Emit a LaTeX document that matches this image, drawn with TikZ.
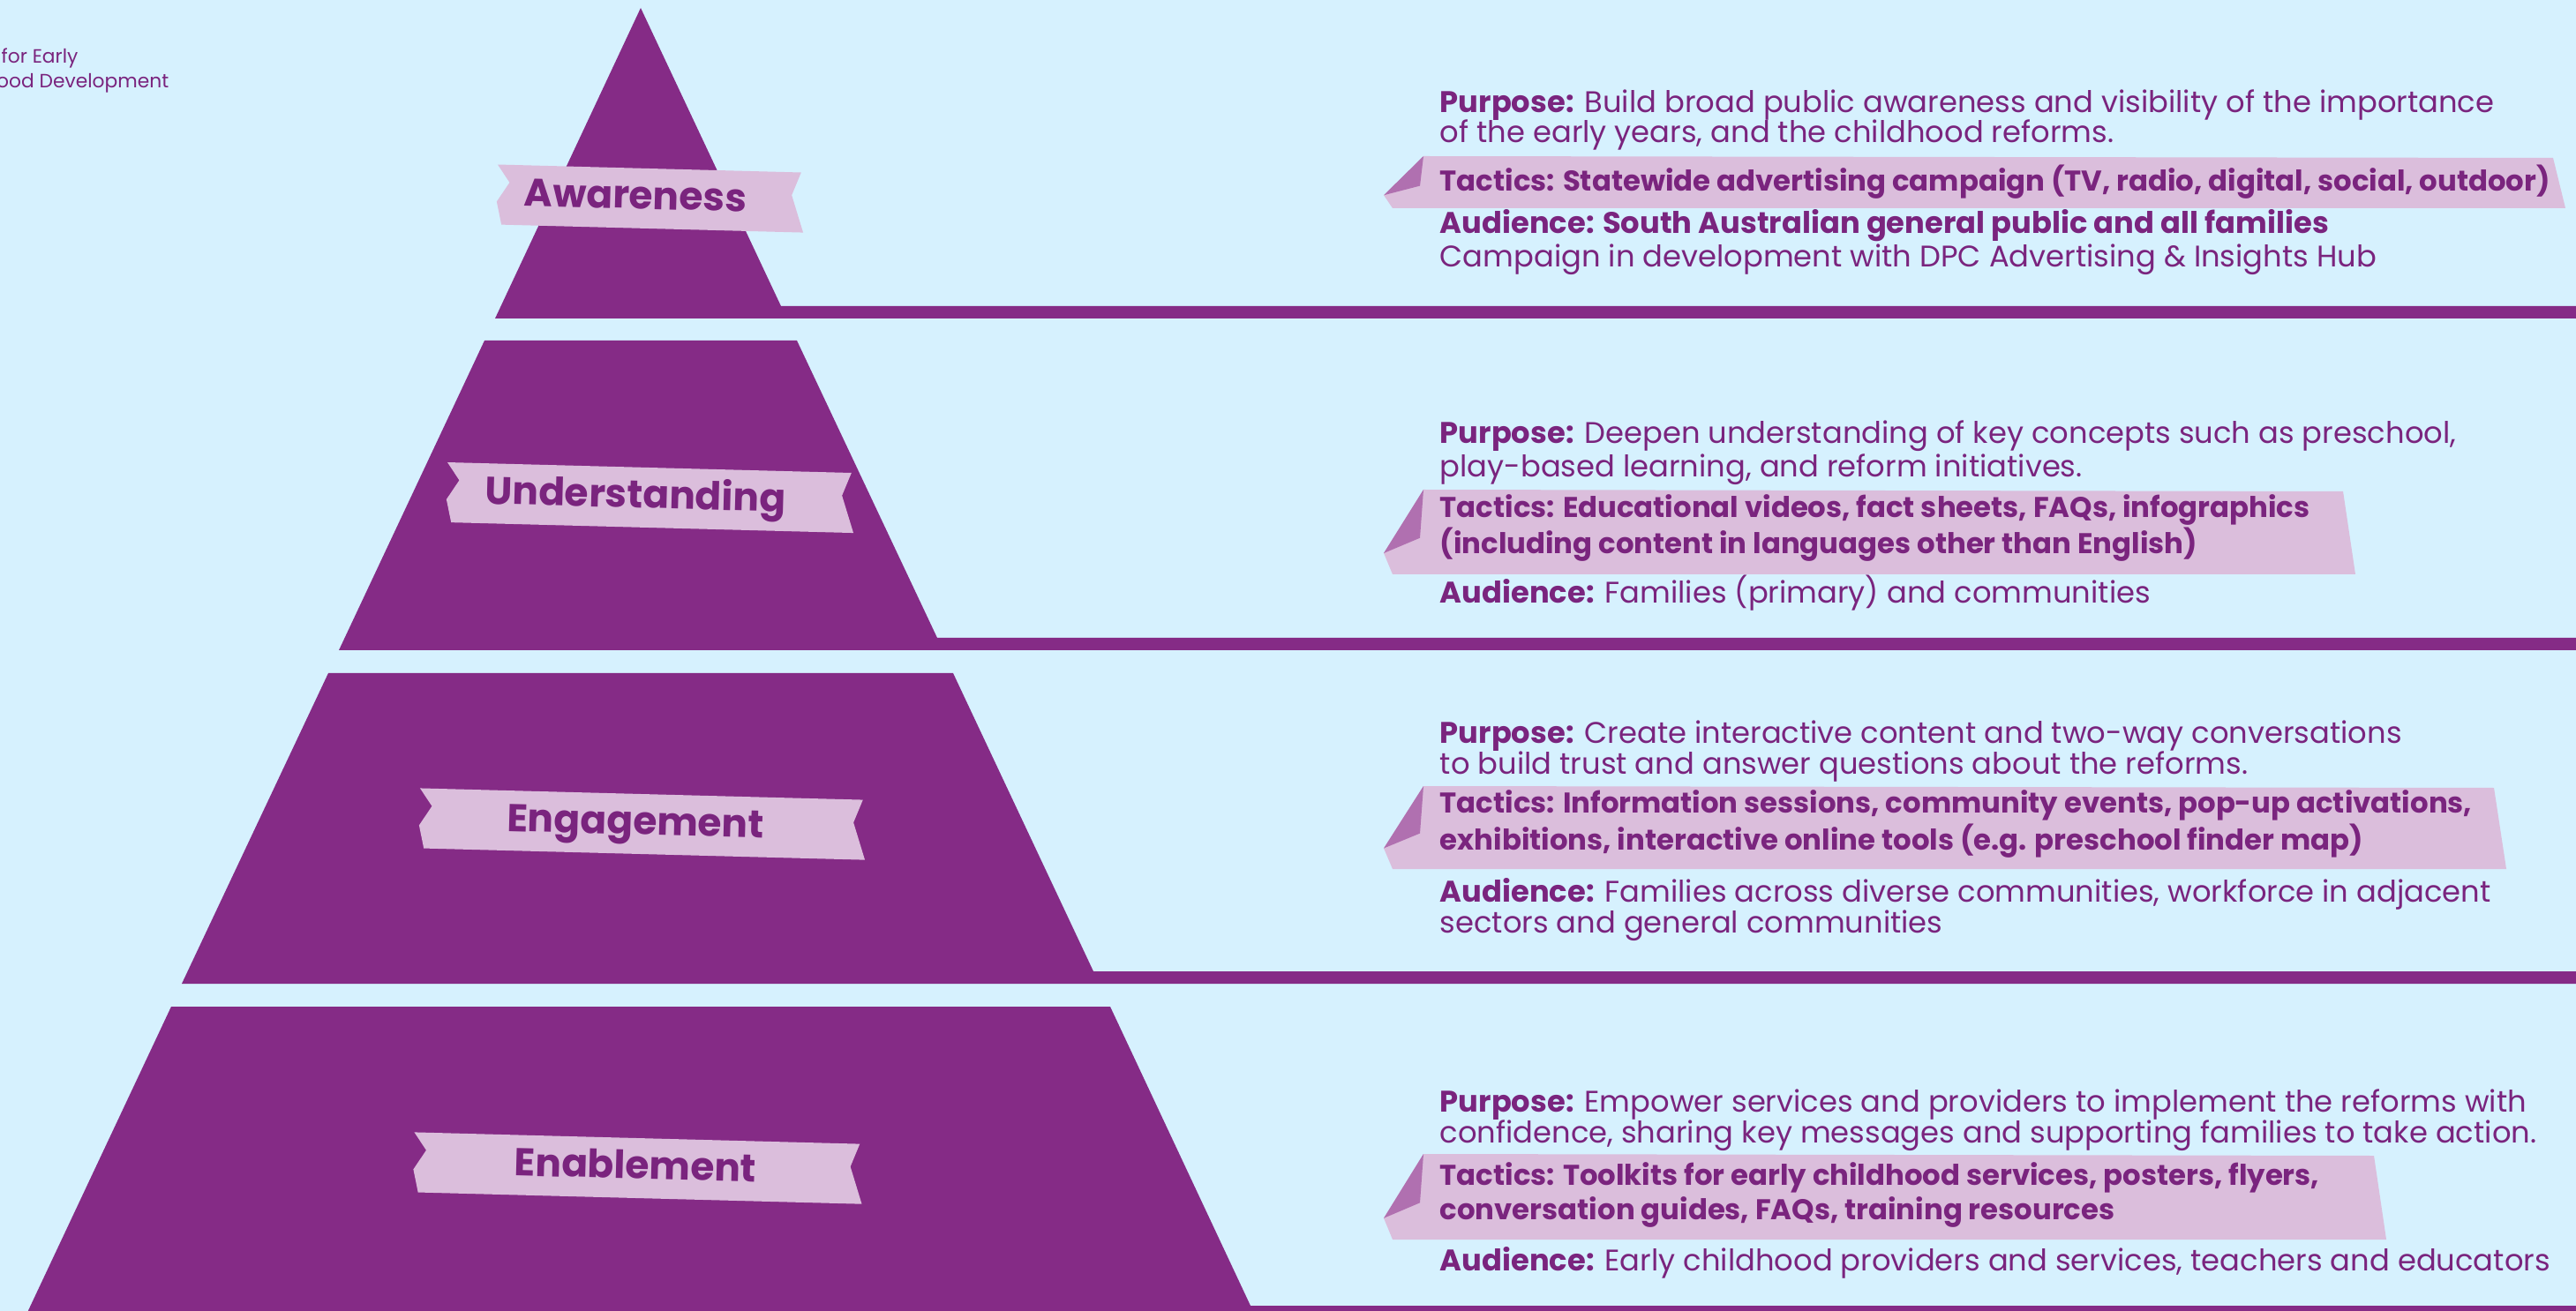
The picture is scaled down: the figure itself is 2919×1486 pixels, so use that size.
\documentclass[tikz,border=0pt]{standalone}
\usepackage{fontspec}
\setmainfont{Poppins}
\usepackage{xcolor}

\definecolor{skyback}{RGB}{214,241,254}
\definecolor{pyrpurple}{RGB}{133,43,134}
\definecolor{ribbonpink}{RGB}{219,190,220}
\definecolor{foldpink}{RGB}{176,112,176}
\definecolor{inkpurple}{RGB}{122,36,126}

% ribbon with a name on it: node name, centre x, centre y, width, text
\newcommand{\tierlabel}[5]{%
  \begin{scope}[shift={(#2,#3)},rotate=-1.5]
    \fill[ribbonpink] (-#4/2,-34) -- (#4/2,-34) -- (#4/2-10,-8) -- (#4/2+4,34)
      -- (-#4/2+6,34) -- (-#4/2,8) -- (-#4/2+14,-14) -- cycle;
    \node[tiername,transform shape] (#1) at ({720-#2},12) {#5};
  \end{scope}}

% folded band behind the tactics: left, top, bottom, right
\newcommand{\tacticsband}[4]{%
  \fill[ribbonpink] (#1+45,#2) -- (#4,#2+2) -- (#4+14,#3) -- (#1+10,#3)
    -- (#1,0.75*#3+0.25*#2) -- cycle;
  \fill[foldpink] (#1+45,#2) -- (#1+41,0.43*#2+0.57*#3) -- (#1,0.75*#3+0.25*#2) -- cycle;}

\begin{document}
\begin{tikzpicture}[x=0.01cm,y=-0.01cm,
    tier/.style={fill=pyrpurple},
    tiername/.style={font=\fontsize{12.5}{14}\selectfont\bfseries,text=inkpurple,inner sep=0pt,anchor=base},
    infotext/.style={font=\fontsize{9.6}{9.9}\selectfont,text=inkpurple,align=left,inner sep=0pt,anchor=base west},
    tacticstext/.style={infotext,font=\fontsize{9.2}{9.5}\selectfont\bfseries},
    logotext/.style={font=\fontsize{6.2}{8}\selectfont,text=inkpurple,inner sep=0pt}]

\fill[skyback] (0,0) rectangle (2919,1486);
\useasboundingbox (0,0) rectangle (2919,1486);
\clip (0,0) rectangle (2919,1486);

% logo, cut at the left edge
\node[logotext,anchor=base west] (logo1) at (1,72) {for Early};
\node[logotext,anchor=base east] (logo2) at (192,100) {hood Development};

% pyramid tiers with their rules
\fill[tier] (726,9) -- (885,347) -- (2919,347) -- (2919,361) -- (561,361) -- cycle;
\fill[tier] (549,386) -- (903,386) -- (1062,723) -- (2919,723) -- (2919,737) -- (384,737) -- cycle;
\fill[tier] (372,763) -- (1080,763) -- (1239,1101) -- (2919,1101) -- (2919,1115) -- (206,1115) -- cycle;
\fill[tier] (194,1141) -- (1258,1141) -- (1417,1480) -- (2919,1480) -- (2919,1494) -- (28,1494) -- cycle;

% ribbons
\tierlabel{awareness}{735}{225}{344}{Awareness}
\tierlabel{understanding}{735}{564}{458}{Understanding}
\tierlabel{engagement}{726}{934}{502}{Engagement}
\tierlabel{enablement}{721}{1324}{505}{Enablement}

% bands
\tacticsband{1568}{177}{236}{2893}
\tacticsband{1568}{555}{651}{2655}
\tacticsband{1568}{891}{985}{2826}
\tacticsband{1568}{1308}{1405}{2690}

% awareness (two-line nodes sit on their last baseline)
\node[infotext] (purpose1) at (1631,162) {\textbf{Purpose:} Build broad public awareness and visibility of the importance\\of the early years, and the childhood reforms.};
\node[tacticstext] (tactics1) at (1631,217) {Tactics: Statewide advertising campaign (TV, radio, digital, social, outdoor)};
\node[infotext] (audience1) at (1631,303) {\textbf{Audience: South Australian general public and all families}\\Campaign in development with DPC Advertising \& Insights Hub};

% understanding
\node[infotext] (purpose2) at (1631,541) {\textbf{Purpose:} Deepen understanding of key concepts such as preschool,\\play-based learning, and reform initiatives.};
\node[tacticstext] (tactics2) at (1631,628) {Tactics: Educational videos, fact sheets, FAQs, infographics\\(including content in languages other than English)};
\node[infotext] (audience2) at (1631,684) {\textbf{Audience:} Families (primary) and communities};

% engagement
\node[infotext] (purpose3) at (1631,877) {\textbf{Purpose:} Create interactive content and two-way conversations\\to build trust and answer questions about the reforms.};
\node[tacticstext] (tactics3) at (1631,963) {Tactics: Information sessions, community events, pop-up activations,\\exhibitions, interactive online tools (e.g. preschool finder map)};
\node[infotext] (audience3) at (1631,1057) {\textbf{Audience:} Families across diverse communities, workforce in adjacent\\sectors and general communities};

% enablement
\node[infotext] (purpose4) at (1631,1295) {\textbf{Purpose:} Empower services and providers to implement the reforms with\\confidence, sharing key messages and supporting families to take action.};
\node[tacticstext] (tactics4) at (1631,1382) {Tactics: Toolkits for early childhood services, posters, flyers,\\conversation guides, FAQs, training resources};
\node[infotext] (audience4) at (1631,1440) {\textbf{Audience:} Early childhood providers and services, teachers and educators};
\end{tikzpicture}
\end{document}
